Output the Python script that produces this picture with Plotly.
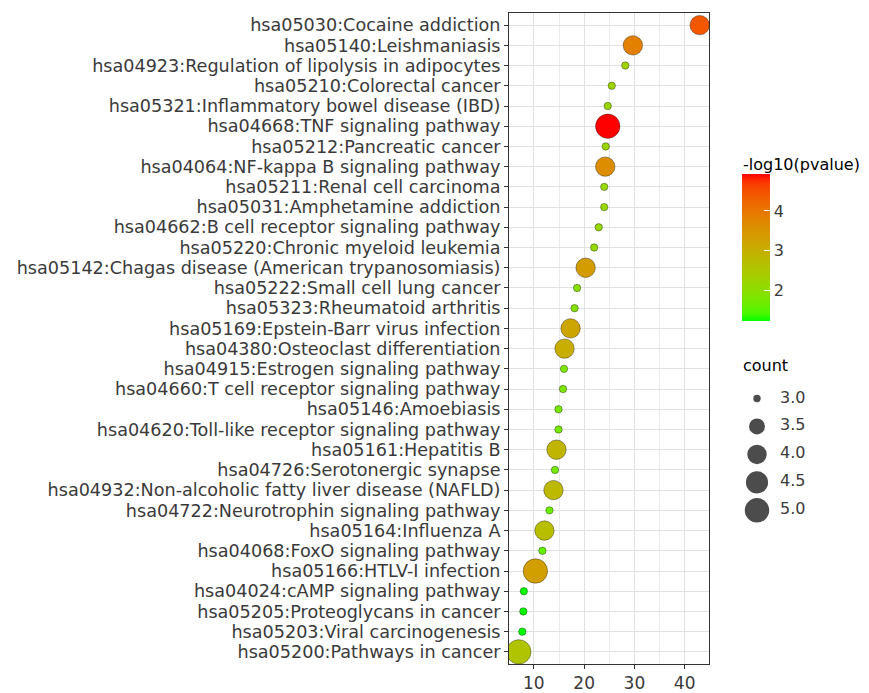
import numpy as np
import plotly.graph_objects as go

# ---------------- data ----------------
terms = [
    "hsa05030:Cocaine addiction",
    "hsa05140:Leishmaniasis",
    "hsa04923:Regulation of lipolysis in adipocytes",
    "hsa05210:Colorectal cancer",
    "hsa05321:Inflammatory bowel disease (IBD)",
    "hsa04668:TNF signaling pathway",
    "hsa05212:Pancreatic cancer",
    "hsa04064:NF-kappa B signaling pathway",
    "hsa05211:Renal cell carcinoma",
    "hsa05031:Amphetamine addiction",
    "hsa04662:B cell receptor signaling pathway",
    "hsa05220:Chronic myeloid leukemia",
    "hsa05142:Chagas disease (American trypanosomiasis)",
    "hsa05222:Small cell lung cancer",
    "hsa05323:Rheumatoid arthritis",
    "hsa05169:Epstein-Barr virus infection",
    "hsa04380:Osteoclast differentiation",
    "hsa04915:Estrogen signaling pathway",
    "hsa04660:T cell receptor signaling pathway",
    "hsa05146:Amoebiasis",
    "hsa04620:Toll-like receptor signaling pathway",
    "hsa05161:Hepatitis B",
    "hsa04726:Serotonergic synapse",
    "hsa04932:Non-alcoholic fatty liver disease (NAFLD)",
    "hsa04722:Neurotrophin signaling pathway",
    "hsa05164:Influenza A",
    "hsa04068:FoxO signaling pathway",
    "hsa05166:HTLV-I infection",
    "hsa04024:cAMP signaling pathway",
    "hsa05205:Proteoglycans in cancer",
    "hsa05203:Viral carcinogenesis",
    "hsa05200:Pathways in cancer",
]
enrichment = [43.0, 29.7, 28.2, 25.5, 24.7, 24.7, 24.3, 24.2, 24.0, 24.0, 22.9,
              22.0, 20.3, 18.6, 18.1, 17.3, 16.1, 16.0, 15.8, 14.9, 14.9, 14.5,
              14.2, 13.9, 13.1, 12.1, 11.7, 10.3, 8.0, 7.9, 7.7, 7.0]
counts = [4, 4, 3, 3, 3, 5, 3, 4, 3, 3, 3,
          3, 4, 3, 3, 4, 4, 3, 3, 3, 3, 4,
          3, 4, 3, 4, 3, 5, 3, 3, 3, 5]
neglog10p = [4.40, 3.85, 2.28, 2.20, 2.17, 4.92, 2.15, 3.62, 2.14, 2.14, 2.11,
             2.08, 3.35, 1.94, 1.91, 3.18, 3.02, 1.81, 1.80, 1.76, 1.76, 2.88,
             1.72, 2.80, 1.65, 2.68, 1.57, 3.30, 1.26, 1.25, 1.23, 2.55]
x_ticks = [10, 20, 30, 40]
color_ticks = [2, 3, 4]
size_legend_values = [3.0, 3.5, 4.0, 4.5, 5.0]
size_legend_labels = ["3.0", "3.5", "4.0", "4.5", "5.0"]

# ---------------- styles ----------------
FONT = "DejaVu Sans"
FS_Y = 17.6
FS_X = 17
FS_LEG = 16
TXT = "#3a3a3a"
CMIN, CMAX = 1.23, max(neglog10p)


def lab_scale(c0, c1, n=21):
    def to_lin(c):
        c = np.asarray(c, float) / 255.0
        return np.where(c <= 0.04045, c / 12.92, ((c + 0.055) / 1.055) ** 2.4)

    def from_lin(c):
        c = np.clip(c, 0, 1)
        return np.where(c <= 0.0031308, 12.92 * c, 1.055 * c ** (1 / 2.4) - 0.055) * 255

    M = np.array([[0.4124, 0.3576, 0.1805], [0.2126, 0.7152, 0.0722], [0.0193, 0.1192, 0.9505]])
    Mi = np.linalg.inv(M)
    wp = np.array([0.95047, 1.0, 1.08883])

    def f(t):
        return np.where(t > (6 / 29) ** 3, np.cbrt(t), t / (3 * (6 / 29) ** 2) + 4 / 29)

    def finv(t):
        return np.where(t > 6 / 29, t ** 3, 3 * (6 / 29) ** 2 * (t - 4 / 29))

    def to_lab(c):
        xyz = M @ to_lin(c) / wp
        fx, fy, fz = f(xyz)
        return np.array([116 * fy - 16, 500 * (fx - fy), 200 * (fy - fz)])

    def from_lab(lab):
        L, a, b = lab
        fy = (L + 16) / 116
        xyz = np.array([finv(fy + a / 500), finv(fy), finv(fy - b / 200)]) * wp
        return from_lin(Mi @ xyz)

    l0, l1 = to_lab(c0), to_lab(c1)
    out = []
    for t in np.linspace(0, 1, n):
        r, g, b = from_lab(l0 + (l1 - l0) * t)
        out.append([float(t), f"rgb({int(round(r))},{int(round(g))},{int(round(b))})"])
    return out


colorscale = lab_scale((0, 255, 0), (255, 0, 0))


def dot_size(c):
    c = np.asarray(c, float)
    return 4 + 3.4 * (1 + 5 * np.sqrt(np.clip((c - 3) / 2, 0, None)))


# layout geometry (pixels)
W_REGION = 869 - 509
def px_x(p):
    return (p - 509) / W_REGION
def px_y(p):
    return (670 - p) / 657

fig = go.Figure()

fig.add_trace(go.Scatter(
    x=enrichment, y=terms, mode="markers", showlegend=False,
    marker=dict(
        size=dot_size(counts), color=neglog10p, colorscale=colorscale,
        cmin=CMIN, cmax=CMAX, opacity=1,
        line=dict(width=1, color="rgba(0,0,0,0.35)"),
        showscale=True,
        colorbar=dict(
            x=px_x(742), xanchor="left", xpad=0,
            y=px_y(250), yanchor="middle", ypad=0,
            len=147, lenmode="pixels", thickness=28, thicknessmode="pixels",
            outlinewidth=0, tickvals=color_ticks, ticks="inside",
            tickcolor="white", ticklen=6, tickwidth=1,
            tickfont=dict(family=FONT, size=FS_LEG, color=TXT),
        ),
    ),
))

fig.add_annotation(
    text="-log10(pvalue)", xref="paper", yref="paper", x=px_x(741), y=px_y(166),
    xanchor="left", yanchor="middle", showarrow=False,
    font=dict(family=FONT, size=FS_LEG, color="black"),
)

# size legend
fig.add_trace(go.Scatter(
    x=[0.118] * len(size_legend_values), y=size_legend_values, mode="markers",
    marker=dict(size=dot_size(size_legend_values), color="black", line=dict(width=0)),
    xaxis="x2", yaxis="y2", showlegend=False, hoverinfo="skip", cliponaxis=False,
))
fig.add_trace(go.Scatter(
    x=[0.30] * len(size_legend_values), y=size_legend_values, mode="text",
    text=size_legend_labels, textposition="middle right",
    textfont=dict(family=FONT, size=FS_LEG, color=TXT),
    xaxis="x2", yaxis="y2", showlegend=False, hoverinfo="skip", cliponaxis=False,
))

fig.add_annotation(
    text="count", xref="paper", yref="paper", x=px_x(741), y=px_y(369),
    xanchor="left", yanchor="middle", showarrow=False,
    font=dict(family=FONT, size=FS_LEG, color="black"),
)

fig.update_layout(
    width=869, height=693,
    margin=dict(l=509, r=0, t=13, b=23),
    paper_bgcolor="white", plot_bgcolor="white",
    font=dict(family=FONT, size=FS_X, color=TXT),
    xaxis=dict(
        domain=[0, px_x(709)], range=[5.05, 44.85],
        tickvals=x_ticks, ticks="outside", ticklen=4, tickcolor="#333",
        showline=True, linecolor="#333", linewidth=1, mirror=True,
        showgrid=True, gridcolor="#E2E2E2", gridwidth=1.2, zeroline=False,
        minor=dict(dtick=5, tick0=0, showgrid=True, gridcolor="#EBEBEB", gridwidth=1),
        tickfont=dict(family=FONT, size=FS_X, color=TXT),
    ),
    yaxis=dict(
        type="category", categoryorder="array", categoryarray=terms,
        range=[len(terms) - 0.4, -0.6],
        tickmode="linear", tick0=0, dtick=1,
        ticks="outside", ticklen=4, tickcolor="#333",
        showline=True, linecolor="#333", linewidth=1, mirror=True,
        showgrid=True, gridcolor="#E2E2E2", gridwidth=1.2, zeroline=False,
        tickfont=dict(family=FONT, size=FS_Y, color=TXT),
    ),
    xaxis2=dict(domain=[px_x(742), 1.0], range=[0, 1], visible=False, anchor="y2"),
    yaxis2=dict(domain=[px_y(529), px_y(388)], range=[5.25, 2.75], visible=False, anchor="x2"),
)

fig.write_html(
    "out.html",
    config={"displayModeBar": False},
    post_script="document.body.style.margin='0';document.body.style.overflow='hidden';",
)
